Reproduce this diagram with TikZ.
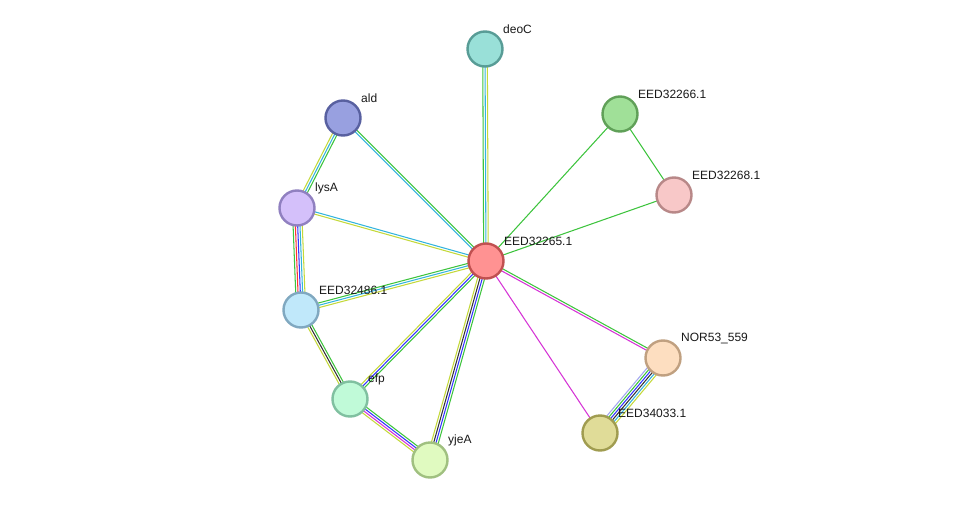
\documentclass[tikz,border=0pt]{standalone}
\usepackage{fontspec}
\setmainfont{Liberation Sans}
\usetikzlibrary{calc}
\pgfdeclarelayer{bg}
\pgfsetlayers{bg,main}
\definecolor{sgreen}{HTML}{3DC43D}
\definecolor{sred}{HTML}{FF3333}
\definecolor{sblue}{HTML}{3333FF}
\definecolor{sblack}{HTML}{333333}
\definecolor{smag}{HTML}{D633D6}
\definecolor{scyan}{HTML}{33B5DD}
\definecolor{syel}{HTML}{C4D93A}
\definecolor{slav}{HTML}{A4A8F0}
\tikzset{
  prot/.style={circle, minimum size=35pt, inner sep=0pt, line width=2.4pt},
  lbl/.style={anchor=west, inner sep=0pt, font=\fontsize{12}{14}\selectfont, text=black!90},
  eline/.style={line width=1.05pt}
}
\newcommand\sedge[4]{%
  \foreach \c [count=\i] in {#4}{%
    \pgfmathsetmacro\off{(\i-(#3+1)/2)*2.3}%
    \draw[eline,\c] ($(#1.center)!\off pt!90:(#2.center)$) -- ($(#2.center)!\off pt!-90:(#1.center)$);
  }}
\begin{document}
\begin{tikzpicture}[x=1pt,y=-1pt]
\useasboundingbox (0,0) rectangle (975,506);
\node[prot, fill={rgb,255:red,153;green,224;blue,216}, draw={rgb,255:red,88;green,156;blue,150}] (deoC) at (485,49) {};
\node[prot, fill={rgb,255:red,152;green,160;blue,224}, draw={rgb,255:red,88;green,96;blue,160}] (ald) at (343,118) {};
\node[prot, fill={rgb,255:red,160;green,224;blue,152}, draw={rgb,255:red,96;green,160;blue,88}] (e266) at (620,114) {};
\node[prot, fill={rgb,255:red,212;green,192;blue,250}, draw={rgb,255:red,144;green,128;blue,192}] (lysA) at (297,208) {};
\node[prot, fill={rgb,255:red,248;green,200;blue,200}, draw={rgb,255:red,184;green,136;blue,136}] (e268) at (674,195) {};
\node[prot, fill={rgb,255:red,255;green,146;blue,146}, draw={rgb,255:red,192;green,80;blue,80}] (e265) at (486,261) {};
\node[prot, fill={rgb,255:red,192;green,232;blue,250}, draw={rgb,255:red,128;green,168;blue,192}] (e486) at (301,310) {};
\node[prot, fill={rgb,255:red,253;green,222;blue,192}, draw={rgb,255:red,192;green,160;blue,128}] (nor) at (663,358) {};
\node[prot, fill={rgb,255:red,192;green,250;blue,216}, draw={rgb,255:red,128;green,192;blue,160}] (efp) at (350,399) {};
\node[prot, fill={rgb,255:red,224;green,220;blue,152}, draw={rgb,255:red,160;green,156;blue,80}] (e033) at (600,433) {};
\node[prot, fill={rgb,255:red,224;green,250;blue,192}, draw={rgb,255:red,160;green,192;blue,128}] (yjeA) at (430,460) {};
\node[lbl] (ldeoC) at (503,29) {deoC};
\node[lbl] (lald) at (361,98) {ald};
\node[lbl] (l266) at (638,94) {EED32266.1};
\node[lbl] (llysA) at (315,188) {lysA};
\node[lbl] (l268) at (692,175) {EED32268.1};
\node[lbl] (l265) at (504,241) {EED32265.1};
\node[lbl] (l486) at (319,290) {EED32486.1};
\node[lbl] (lnor) at (681,338) {NOR53\_559};
\node[lbl] (lefp) at (368,379) {efp};
\node[lbl] (l033) at (618,413) {EED34033.1};
\node[lbl] (lyjeA) at (448,440) {yjeA};
\begin{pgfonlayer}{bg}
\fill[white] (0,0) rectangle (975,506);
\sedge{deoC}{e265}{3}{sgreen,scyan,syel}
\sedge{ald}{e265}{2}{scyan,sgreen}
\sedge{ald}{lysA}{3}{syel,scyan,sgreen}
\sedge{lysA}{e265}{2}{syel,scyan}
\sedge{lysA}{e486}{5}{sgreen,sred,sblue,scyan,syel}
\sedge{e486}{e265}{3}{syel,scyan,sgreen}
\sedge{e486}{efp}{3}{syel,sblack,sgreen}
\sedge{efp}{e265}{3}{sgreen,sblue,syel}
\sedge{efp}{yjeA}{4}{syel,smag,sblue,sgreen}
\sedge{yjeA}{e265}{4}{sgreen,sblue,sblack,syel}
\sedge{e265}{e266}{1}{sgreen}
\sedge{e266}{e268}{1}{sgreen}
\sedge{e268}{e265}{1}{sgreen}
\sedge{e265}{nor}{2}{smag,sgreen}
\sedge{e265}{e033}{1}{smag}
\sedge{nor}{e033}{6}{slav,sgreen,sblue,sblack,scyan,syel}
\end{pgfonlayer}
\end{tikzpicture}
\end{document}
